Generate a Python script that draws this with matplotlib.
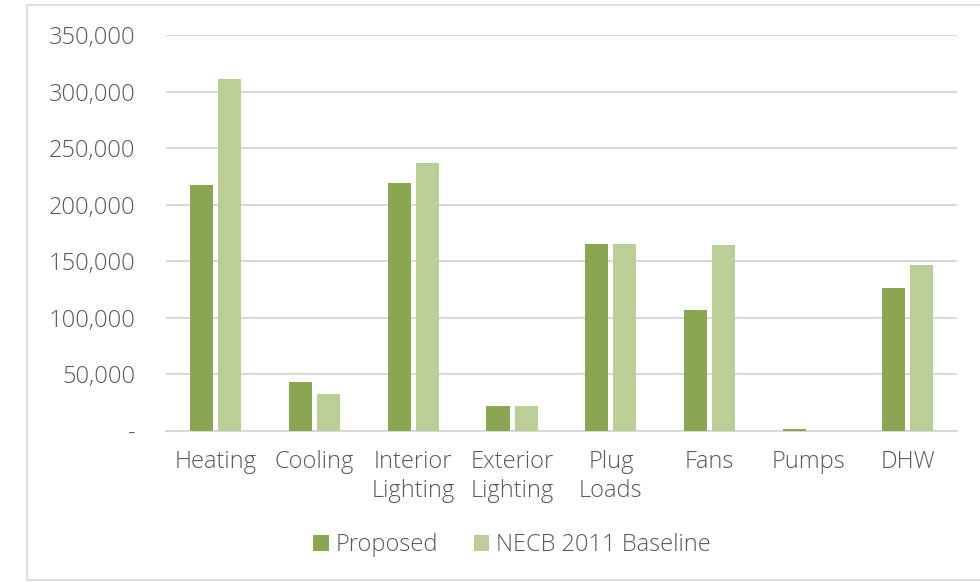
import matplotlib.pyplot as plt
import numpy as np
from matplotlib.patches import Rectangle
from matplotlib.ticker import FuncFormatter

categories = ["Heating", "Cooling", "Interior\nLighting", "Exterior\nLighting",
              "Plug\nLoads", "Fans", "Pumps", "DHW"]
proposed = [217000, 43300, 219500, 22000, 165500, 107000, 1500, 126000]
baseline = [311000, 32700, 236500, 22000, 165500, 164000, 0, 147000]
series_names = ["Proposed", "NECB 2011 Baseline"]

dark_green = "#8BA650"
light_green = "#BACE96"
text_grey = "#595959"
grid_grey = "#D9D9D9"

plt.rcParams['font.family'] = ['Open Sans', 'DejaVu Sans']
plt.rcParams['font.weight'] = 'light'

fig = plt.figure(figsize=(9.8, 5.82), dpi=100)
ax = fig.add_axes([0.1694, 0.2595, 0.8071, 0.6804])

# outer chart frame (right edge runs off the image)
fig.patches.append(Rectangle((27 / 980, 2 / 582), 1.0, 575 / 582,
                             transform=fig.transFigure, fill=False,
                             edgecolor=grid_grey, linewidth=1.2))

x = np.arange(len(categories))
w = 0.233
off = 0.142
ax.bar(x - off, proposed, w, color=dark_green, label=series_names[0], zorder=3)
ax.bar(x + off, baseline, w, color=light_green, label=series_names[1], zorder=3)

ax.set_xlim(-0.5, len(categories) - 0.5)
ax.set_ylim(0, 350000)
ax.set_yticks(np.arange(0, 350001, 50000))
ax.yaxis.set_major_formatter(FuncFormatter(lambda v, p: "-" if v == 0 else f"{int(v):,}"))
ax.grid(axis="y", color=grid_grey, linewidth=1.5, zorder=0)
ax.set_axisbelow(True)

ax.set_xticks(x)
ax.set_xticklabels(categories, linespacing=1.25)
ax.tick_params(axis="both", length=0, labelsize=17, labelcolor=text_grey)
ax.tick_params(axis="y", pad=22)
ax.tick_params(axis="x", pad=14)

for side in ["top", "right", "left"]:
    ax.spines[side].set_visible(False)
ax.spines["bottom"].set_color(grid_grey)
ax.spines["bottom"].set_linewidth(1.5)

fig.legend(loc="center", bbox_to_anchor=(512 / 980, 1 - 545 / 582), ncol=2,
           frameon=False, fontsize=17, labelcolor=text_grey,
           handlelength=0.65, handleheight=0.65, handletextpad=0.3,
           columnspacing=1.5)

fig.savefig("out.png", dpi=100, facecolor="white")
